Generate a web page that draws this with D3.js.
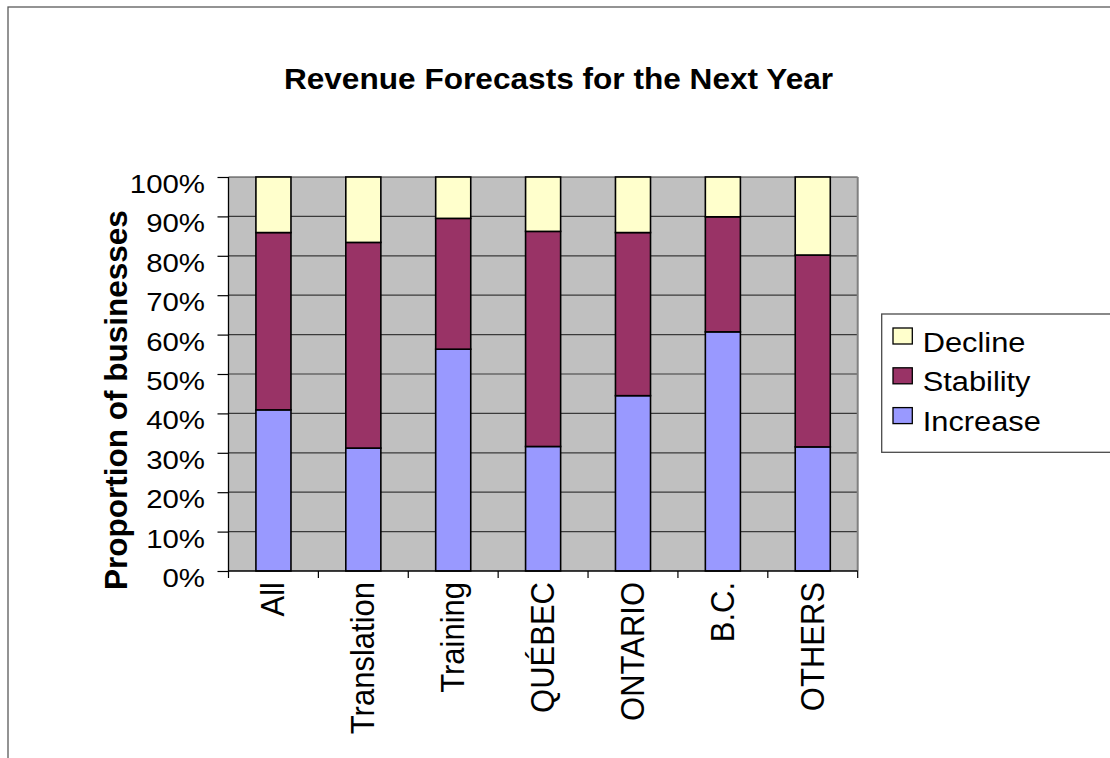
<!DOCTYPE html>
<html><head><meta charset="utf-8">
<script src="https://cdn.jsdelivr.net/npm/d3@7"></script>
<style>html,body{margin:0;padding:0;background:#fff;overflow:hidden}</style>
</head><body>
<svg id="chart" width="1110" height="758"></svg>
<script>
// Revenue forecasts by segment, in percent of businesses
const categories = ["All", "Translation", "Training", "QUÉBEC", "ONTARIO", "B.C.", "OTHERS"];
const increase  = [40.9, 31.2, 56.3, 31.6, 44.5, 60.7, 31.5];
const stability = [45.0, 52.2, 33.2, 54.6, 41.4, 29.2, 48.7];
const decline   = [14.1, 16.6, 10.5, 13.8, 14.1, 10.1, 19.8];
const seriesNames = ["Increase", "Stability", "Decline"];
const seriesColors = ["#9999FF", "#993366", "#FFFFCC"];
const yTicks = [0, 10, 20, 30, 40, 50, 60, 70, 80, 90, 100];
const titleText = "Revenue Forecasts for the Next Year";
const yTitleText = "Proportion of businesses";

const FONT = "'Liberation Sans', Arial, Helvetica, sans-serif";
const svg = d3.select("#chart");

const plot = {left: 228.5, right: 857.7, top: 177, bottom: 571};

const rows = categories.map((c, i) => ({
  category: c, Increase: increase[i], Stability: stability[i], Decline: decline[i]
}));
const stacked = d3.stack().keys(seriesNames)(rows);

const x = d3.scaleBand().domain(categories)
  .range([plot.left, plot.right]).paddingInner(0.61).paddingOuter(0.305);
const y = d3.scaleLinear().domain([0, 100]).range([plot.bottom, plot.top]);
const color = d3.scaleOrdinal().domain(seriesNames).range(seriesColors);

// outer chart frame
svg.append("rect").attr("x", 8).attr("y", 7).attr("width", 1120).attr("height", 770)
  .attr("fill", "none").attr("stroke", "#5a5a5a").attr("stroke-width", 1.3);

// plot background
svg.append("rect").attr("x", plot.left).attr("y", plot.top)
  .attr("width", plot.right - plot.left).attr("height", plot.bottom - plot.top)
  .attr("fill", "#C0C0C0");

// horizontal gridlines
svg.append("g").selectAll("line").data(yTicks.filter(t => t > 0)).join("line")
  .attr("x1", plot.left).attr("x2", plot.right)
  .attr("y1", d => y(d)).attr("y2", d => y(d))
  .attr("stroke", "#3a3a3a").attr("stroke-width", 1.2);

// right edge of plot area
svg.append("line").attr("x1", plot.right).attr("x2", plot.right)
  .attr("y1", plot.top).attr("y2", plot.bottom)
  .attr("stroke", "#808080").attr("stroke-width", 2);

// stacked bars
svg.append("g").selectAll("g").data(stacked).join("g")
  .attr("fill", d => color(d.key))
  .selectAll("rect").data(d => d).join("rect")
  .attr("x", d => x(d.data.category))
  .attr("width", x.bandwidth())
  .attr("y", d => y(d[1]))
  .attr("height", d => y(d[0]) - y(d[1]))
  .attr("stroke", "#000").attr("stroke-width", 1.6);

// y axis
const yAxis = d3.axisLeft(y).tickValues(yTicks).tickFormat(d => d + "%")
  .tickSize(11).tickPadding(0);
const gy = svg.append("g").attr("transform", `translate(${plot.left},0)`).call(yAxis);
gy.select(".domain").attr("stroke", "#000").attr("stroke-width", 1.3).attr("d", `M0,${plot.top}V${plot.bottom}`);
gy.selectAll(".tick line").attr("stroke", "#000").attr("stroke-width", 1.2);
gy.selectAll(".tick text")
  .attr("x", null).attr("dy", null)
  .attr("transform", "translate(-23.5,15.5) scale(1.11,1)")
  .attr("text-anchor", "end")
  .style("font-family", FONT).style("font-size", "26.5px").attr("fill", "#000");

// x axis line and category ticks at band boundaries
svg.append("line").attr("x1", plot.left).attr("x2", plot.right)
  .attr("y1", plot.bottom).attr("y2", plot.bottom)
  .attr("stroke", "#000").attr("stroke-width", 1.3);
const boundaries = d3.range(categories.length + 1).map(i => plot.left + i * x.step());
svg.append("g").selectAll("line").data(boundaries).join("line")
  .attr("x1", d => d).attr("x2", d => d)
  .attr("y1", plot.bottom).attr("y2", plot.bottom + 7)
  .attr("stroke", "#000").attr("stroke-width", 1.2);

// rotated category labels
svg.append("g").selectAll("text").data(categories).join("text")
  .attr("transform", d => `translate(${x(d) + x.bandwidth() / 2 + 11},${plot.bottom + 11}) scale(1.1,1) rotate(-90)`)
  .attr("text-anchor", "end")
  .style("font-family", FONT).style("font-size", "31px").attr("fill", "#000")
  .text(d => d);

// chart title
svg.append("text")
  .attr("transform", "translate(558.5,89) scale(1.09,1)")
  .attr("text-anchor", "middle")
  .style("font-family", FONT).style("font-size", "29px").style("font-weight", "bold")
  .text(titleText);

// y axis title
svg.append("text")
  .attr("transform", "translate(126.5,400) rotate(-90)")
  .attr("text-anchor", "middle")
  .style("font-family", FONT).style("font-size", "31.5px").style("font-weight", "bold")
  .text(yTitleText);

// legend
const legend = svg.append("g");
legend.append("rect").attr("x", 881.7).attr("y", 314).attr("width", 260).attr("height", 138.3)
  .attr("fill", "#fff").attr("stroke", "#4a4a4a").attr("stroke-width", 1.3);
const legendKeys = seriesNames.slice().reverse();
const items = legend.selectAll("g.item").data(legendKeys).join("g")
  .attr("class", "item")
  .attr("transform", (d, i) => `translate(0,${351.5 + i * 39.8})`);
items.append("rect").attr("x", 893).attr("y", -23.5).attr("width", 19.3).attr("height", 16)
  .attr("fill", d => color(d)).attr("stroke", "#000").attr("stroke-width", 1.3);
items.append("text")
  .attr("transform", "translate(922.7,0) scale(1.1,1)")
  .style("font-family", FONT).style("font-size", "28px").attr("fill", "#000")
  .text(d => d);
</script>
</body></html>
